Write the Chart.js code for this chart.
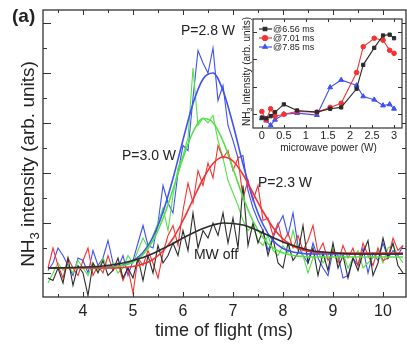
<!DOCTYPE html>
<html>
<head>
<meta charset="utf-8">
<script src="https://cdn.jsdelivr.net/npm/chart.js@4.4.1/dist/chart.umd.min.js"></script>
<style>
  html, body { margin: 0; padding: 0; background: #fff; }
  #wrap { position: relative; width: 407px; height: 345px; overflow: hidden; }
  #main { position: absolute; left: 0; top: 0; }
  #inset { position: absolute; left: 230px; top: 14px; }
</style>
</head>
<body>
<div id="wrap">
  <canvas id="main" width="407" height="345"></canvas>
  <canvas id="inset" width="177" height="145"></canvas>
</div>
<script>
// time of flight (ms) for the raw traces
const tof = [3.3, 3.4, 3.5, 3.6, 3.7, 3.8, 3.9, 4.0, 4.1, 4.2, 4.3, 4.4, 4.5, 4.6, 4.7, 4.8, 4.9, 5.0,
  5.1, 5.2, 5.3, 5.4, 5.5, 5.6, 5.7, 5.8, 5.9, 6.0, 6.1, 6.2, 6.3, 6.4, 6.5, 6.6, 6.7, 6.8, 6.9, 7.0,
  7.1, 7.2, 7.3, 7.4, 7.5, 7.6, 7.7, 7.8, 7.9, 8.0, 8.1, 8.2, 8.3, 8.4, 8.5, 8.6, 8.7, 8.8, 8.9, 9.0,
  9.1, 9.2, 9.3, 9.4, 9.5, 9.6, 9.7, 9.8, 9.9, 10.0, 10.1, 10.2, 10.3, 10.4];

const p28Raw = [0.05, 0.2, 0.5, 0.35, 0.15, -0.05, 0.3, 0.25, 0.0, 0.45, 0.15, 0.3, 0.65, 0.2, 0.1, 0.35, -0.05, 0.25,
  0.6, 0.95, 0.55, 0.5, 1.0, 1.75, 1.4, 1.2, 2.0, 2.55, 2.45, 3.5, 4.45, 4.2, 4.0, 4.5, 3.45, 3.75, 2.95, 2.65,
  2.3, 2.35, 1.65, 1.3, 1.05, 0.85, 0.45, 0.7, 0.95, 1.15, 0.75, 1.2, 0.55, 0.35, 0.2, 0.6, 0.3, 0.1, -0.05, 0.45,
  0.35, -0.1, -0.05, 0.3, 0.15, 0.5, 0.0, 0.4, 0.25, 0.6, 0.3, 0.45, 0.35, 0.55];

const p30Raw = [-0.2, 0.0, 0.2, 0.05, 0.15, 0.0, 0.25, 0.1, -0.05, 0.2, 0.05, 0.3, 0.1, 0.2, 0.0, 0.1, 0.35, 0.2,
  0.45, 0.7, 0.5, 0.75, 1.0, 1.3, 0.85, 1.55, 2.1, 2.35, 2.7, 4.1, 2.95, 3.1, 3.0, 3.15, 2.65, 2.3, 1.85, 1.6,
  1.35, 1.05, 0.85, 0.95, 0.65, 0.55, 0.75, 0.45, 0.35, 0.55, 0.4, 0.85, 0.45, 0.35, 0.0, 0.3, 0.45, 0.2, 0.35, 0.5,
  0.25, 0.4, 0.1, 0.3, 0.45, 0.1, 0.2, 0.3, 0.45, 0.2, 0.5, 0.55, 0.35, 0.2];

const p23Raw = [0.1, 0.5, 0.15, -0.1, 0.3, 0.1, -0.05, 0.25, 0.5, -0.05, 0.15, 0.0, 0.35, 0.05, 0.2, -0.15, 0.1, -0.4,
  0.3, 0.15, 0.45, 0.2, -0.1, 0.4, 0.75, 0.95, 0.55, 1.25, 1.8, 1.4, 2.05, 1.75, 2.2, 1.9, 2.55, 2.3, 2.45, 2.05,
  2.3, 1.5, 1.85, 1.45, 1.75, 1.05, 1.1, 0.75, 1.0, 0.6, 0.8, 0.5, 0.75, 0.45, 0.65, 0.95, 0.4, 0.6, 0.25, 0.45,
  0.2, 0.55, 0.3, 0.5, 0.15, 0.6, 0.35, 0.15, 0.5, 0.25, 0.3, 0.7, 0.45, 0.55];

const offRaw = [-0.1, -0.15, 0.1, -0.2, 0.3, -0.25, 0.15, 0.0, -0.45, 0.2, 0.0, 0.25, -0.05, 0.05, 0.3, -0.1, 0.1, -0.1,
  0.3, -0.15, 0.35, 0.0, 0.55, 0.2, 0.35, 0.6, 0.35, 0.85, 0.45, 1.2, 0.5, 0.85, 0.7, 1.0, 0.75, 1.2, 0.6, 1.1,
  0.5, 1.75, 0.55, 1.0, 0.6, 0.85, 0.35, 0.7, 0.2, 0.1, 0.6, 0.25, 0.4, 0.95, 0.2, 0.5, -0.05, 0.4, 0.05, 0.6,
  0.1, 0.35, -0.1, 0.3, 0.05, 0.4, 0.65, -0.05, 0.2, 0.7, 0.3, 0.6, 0.15, 0.0];

// fitted curves, read at these times
const fitT = [3.3, 3.8, 4.4, 4.8, 5.0, 5.2, 5.4, 5.6, 5.8, 6.0, 6.2, 6.4, 6.6, 6.8, 7.0, 7.2, 7.4, 7.6,
  7.8, 8.0, 8.2, 8.4, 8.6, 8.8, 9.2, 9.6, 10.0, 10.4];
const p28Fit = [0.10, 0.10, 0.11, 0.16, 0.24, 0.41, 0.72, 1.22, 1.89, 2.66, 3.39, 3.88, 4.0, 3.65, 2.97, 2.18, 1.48, 0.97,
  0.65, 0.49, 0.42, 0.39, 0.38, 0.38, 0.38, 0.38, 0.38, 0.38];
const p30Fit = [0.10, 0.10, 0.10, 0.15, 0.22, 0.37, 0.65, 1.09, 1.67, 2.30, 2.82, 3.09, 3.01, 2.64, 2.09, 1.52, 1.04, 0.71,
  0.50, 0.40, 0.35, 0.33, 0.32, 0.32, 0.32, 0.32, 0.32, 0.32];
const p23Fit = [0.10, 0.10, 0.10, 0.11, 0.13, 0.18, 0.27, 0.44, 0.69, 1.05, 1.47, 1.88, 2.19, 2.32, 2.24, 1.97, 1.60, 1.23,
  0.91, 0.68, 0.54, 0.46, 0.42, 0.41, 0.40, 0.40, 0.40, 0.40];
const offFit = [0.10, 0.11, 0.14, 0.20, 0.25, 0.31, 0.39, 0.49, 0.59, 0.70, 0.80, 0.89, 0.96, 1.0, 0.99, 0.96, 0.89, 0.80,
  0.71, 0.62, 0.55, 0.49, 0.44, 0.42, 0.39, 0.38, 0.38, 0.38];

const xTickLabels = ['4', '5', '6', '7', '8', '9', '10'];

// inset: intensity vs microwave power
const power = [0, 0.1, 0.2, 0.3, 0.5, 0.8, 1.25, 1.55, 1.8, 2.15, 2.3, 2.55, 2.75, 2.9, 3.0];
const at656 = [-0.12, -0.15, -0.07, 0.08, 0.36, 0.14, 0.08, 0.2, 0.25, 0.93, 1.8, 2.42, 2.87, 2.9, 2.77];
const at701 = [0.1, -0.2, 0.2, -0.07, 0.0, 0.1, 0.08, 0.25, 0.4, 1.52, 2.46, 2.77, 2.7, 2.33, 2.22];
const at785 = [-0.15, -0.23, -0.4, -0.2, 0.0, 0.04, -0.03, 0.98, 1.25, 1.05, 0.65, 0.53, 0.32, 0.36, 0.2];
const insetTickLabels = ['0', '0.5', '1', '1.5', '2', '2.5', '3'];
const insetLegend = ['@6.56 ms', '@7.01 ms', '@7.85 ms'];

const BLUE = '#3f50f5', GREEN = '#55e048', RED = '#f53232', BLACK = '#2b2b2b';
const FONT = '"Liberation Sans", Arial, sans-serif';

const pts = (xs, ys) => xs.map((x, i) => ({ x: x, y: ys[i] }));

function raw(data, color) {
  return { data: pts(tof, data), borderColor: color, borderWidth: 1.1, pointRadius: 0, order: 2 };
}
function fit(data, color) {
  return { data: pts(fitT, data), borderColor: color, borderWidth: 1.6, pointRadius: 0,
    cubicInterpolationMode: 'monotone', order: 1 };
}

const mainDecor = {
  id: 'mainDecor',
  beforeDraw(chart) {
    const c = chart.ctx;
    c.save();
    c.fillStyle = '#fff';
    c.fillRect(0, 0, chart.width, chart.height);
    c.restore();
  },
  afterDraw(chart) {
    const c = chart.ctx, a = chart.chartArea;
    const xs = chart.scales.x, ys = chart.scales.y;
    c.save();
    c.strokeStyle = '#333';
    c.lineWidth = 1.3;
    c.strokeRect(a.left, a.top, a.right - a.left, a.bottom - a.top);

    c.lineWidth = 1;
    c.beginPath();
    for (let v = 3.5; v <= 10.01; v += 0.5) {
      const px = Math.round(xs.getPixelForValue(v)) + 0.5;
      const len = Number.isInteger(Math.round(v * 2) / 2) && Math.abs(v - Math.round(v)) < 0.01 ? 5 : 3;
      c.moveTo(px, a.bottom); c.lineTo(px, a.bottom - len);
      c.moveTo(px, a.top); c.lineTo(px, a.top + len);
    }
    for (let v = 0; v <= 5.01; v += 0.5) {
      const py = Math.round(ys.getPixelForValue(v)) + 0.5;
      const len = Math.abs(v - Math.round(v)) < 0.01 ? 8 : 4;
      c.moveTo(a.left, py); c.lineTo(a.left + len, py);
      c.moveTo(a.right, py); c.lineTo(a.right - len, py);
    }
    c.stroke();

    c.fillStyle = '#222';
    c.textAlign = 'center';
    c.textBaseline = 'middle';
    c.font = '16px ' + FONT;
    xTickLabels.forEach(t => c.fillText(t, xs.getPixelForValue(Number(t)), 312));
    c.font = '18px ' + FONT;
    c.fillText('time of flight (ms)', 224, 331);

    c.font = 'bold 19px ' + FONT;
    c.textAlign = 'left';
    c.fillText('(a)', 12, 17);

    c.font = '14px ' + FONT;
    c.textAlign = 'center';
    c.fillText('P=2.8 W', 208, 31);
    c.fillText('P=3.0 W', 149, 156);
    c.fillText('P=2.3 W', 285, 183);
    c.fillText('MW off', 216, 255);

    // rotated y title with subscript
    c.translate(29, 164);
    c.rotate(-Math.PI / 2);
    const big = '19px ' + FONT, small = '13px ' + FONT;
    c.font = big; const w1 = c.measureText('NH').width;
    const rest = ' intensity (arb. units)'; const w3 = c.measureText(rest).width;
    c.font = small; const w2 = c.measureText('3').width;
    let x0 = -(w1 + w2 + w3) / 2;
    c.textAlign = 'left';
    c.font = big; c.fillText('NH', x0, 0);
    c.font = small; c.fillText('3', x0 + w1, 6);
    c.font = big; c.fillText(rest, x0 + w1 + w2, 0);
    c.restore();
  }
};

new Chart(document.getElementById('main').getContext('2d'), {
  type: 'line',
  data: {
    datasets: [
      raw(offRaw, BLACK), raw(p23Raw, RED), raw(p30Raw, GREEN), raw(p28Raw, BLUE),
      fit(offFit, BLACK), fit(p23Fit, RED), fit(p30Fit, GREEN), fit(p28Fit, BLUE)
    ]
  },
  options: {
    responsive: false,
    animation: false,
    devicePixelRatio: 1,
    layout: { padding: { left: 43, top: 10, right: 1, bottom: 48 } },
    plugins: { legend: { display: false }, tooltip: { enabled: false } },
    scales: {
      x: { type: 'linear', min: 3.2, max: 10.46, display: false },
      y: { min: -0.48, max: 5.26, display: false }
    }
  },
  plugins: [mainDecor]
});

const insetDecor = {
  id: 'insetDecor',
  beforeDraw(chart) {
    const c = chart.ctx, a = chart.chartArea;
    c.save();
    c.fillStyle = '#fff';
    c.fillRect(a.left, a.top, a.right - a.left, chart.height - a.top);
    c.restore();
  },
  afterDraw(chart) {
    const c = chart.ctx, a = chart.chartArea;
    const xs = chart.scales.x, ys = chart.scales.y;
    c.save();
    c.strokeStyle = '#333';
    c.lineWidth = 1.2;
    c.strokeRect(a.left, a.top, a.right - a.left, a.bottom - a.top);
    c.lineWidth = 1;
    c.beginPath();
    insetTickLabels.forEach(t => {
      const px = Math.round(xs.getPixelForValue(Number(t))) + 0.5;
      c.moveTo(px, a.bottom); c.lineTo(px, a.bottom - 3);
      c.moveTo(px, a.top); c.lineTo(px, a.top + 3);
    });
    [0, 1, 2, 3].forEach(v => {
      const py = Math.round(ys.getPixelForValue(v)) + 0.5;
      c.moveTo(a.left, py); c.lineTo(a.left + 4, py);
      c.moveTo(a.right, py); c.lineTo(a.right - 4, py);
    });
    c.stroke();

    c.fillStyle = '#222';
    c.textAlign = 'center';
    c.textBaseline = 'middle';
    c.font = '11px ' + FONT;
    insetTickLabels.forEach(t => c.fillText(t, xs.getPixelForValue(Number(t)), a.bottom + 8));
    c.font = '10px ' + FONT;
    c.fillText('microwave power (W)', (a.left + a.right) / 2 + 1, a.bottom + 20);

    // legend
    const colors = [BLACK, RED, BLUE], styles = ['rect', 'circle', 'triangle'];
    c.font = '9px ' + FONT;
    c.textAlign = 'left';
    insetLegend.forEach((t, i) => {
      const y = a.top + 10 + i * 9;
      c.strokeStyle = colors[i];
      c.fillStyle = colors[i];
      c.lineWidth = 1.2;
      c.beginPath(); c.moveTo(a.left + 6, y); c.lineTo(a.left + 19, y); c.stroke();
      Chart.helpers.drawPoint(c, { pointStyle: styles[i], radius: 2.5, borderWidth: 1 }, a.left + 12, y);
      c.fillStyle = '#222';
      c.fillText(t, a.left + 20, y + 0.5);
    });

    // rotated y title
    c.translate(a.left - 6, (a.top + a.bottom) / 2 - 2);
    c.rotate(-Math.PI / 2);
    const big = '10px ' + FONT, small = '7px ' + FONT;
    c.font = big; const w1 = c.measureText('NH').width;
    const rest = ' Intensity (arb. units)'; const w3 = c.measureText(rest).width;
    c.font = small; const w2 = c.measureText('3').width;
    const x0 = -(w1 + w2 + w3) / 2;
    c.fillStyle = '#222';
    c.font = big; c.fillText('NH', x0, 0);
    c.font = small; c.fillText('3', x0 + w1, 3);
    c.font = big; c.fillText(rest, x0 + w1 + w2, 0);
    c.restore();
  }
};

function insetSet(data, color, style, r) {
  return { data: pts(power, data), borderColor: color, backgroundColor: color, borderWidth: 1.1,
    pointStyle: style, pointRadius: r, pointBorderWidth: 1 };
}

new Chart(document.getElementById('inset').getContext('2d'), {
  type: 'line',
  data: {
    datasets: [
      insetSet(at656, BLACK, 'rect', 2.3),
      insetSet(at701, RED, 'circle', 2.3),
      insetSet(at785, BLUE, 'triangle', 2.8)
    ]
  },
  options: {
    responsive: false,
    animation: false,
    devicePixelRatio: 1,
    layout: { padding: { left: 23, top: 4, right: 2, bottom: 31 } },
    plugins: { legend: { display: false }, tooltip: { enabled: false } },
    scales: {
      x: { type: 'linear', min: -0.2, max: 3.18, display: false },
      y: { min: -0.5, max: 3.47, display: false }
    }
  },
  plugins: [insetDecor]
});
</script>
</body>
</html>
